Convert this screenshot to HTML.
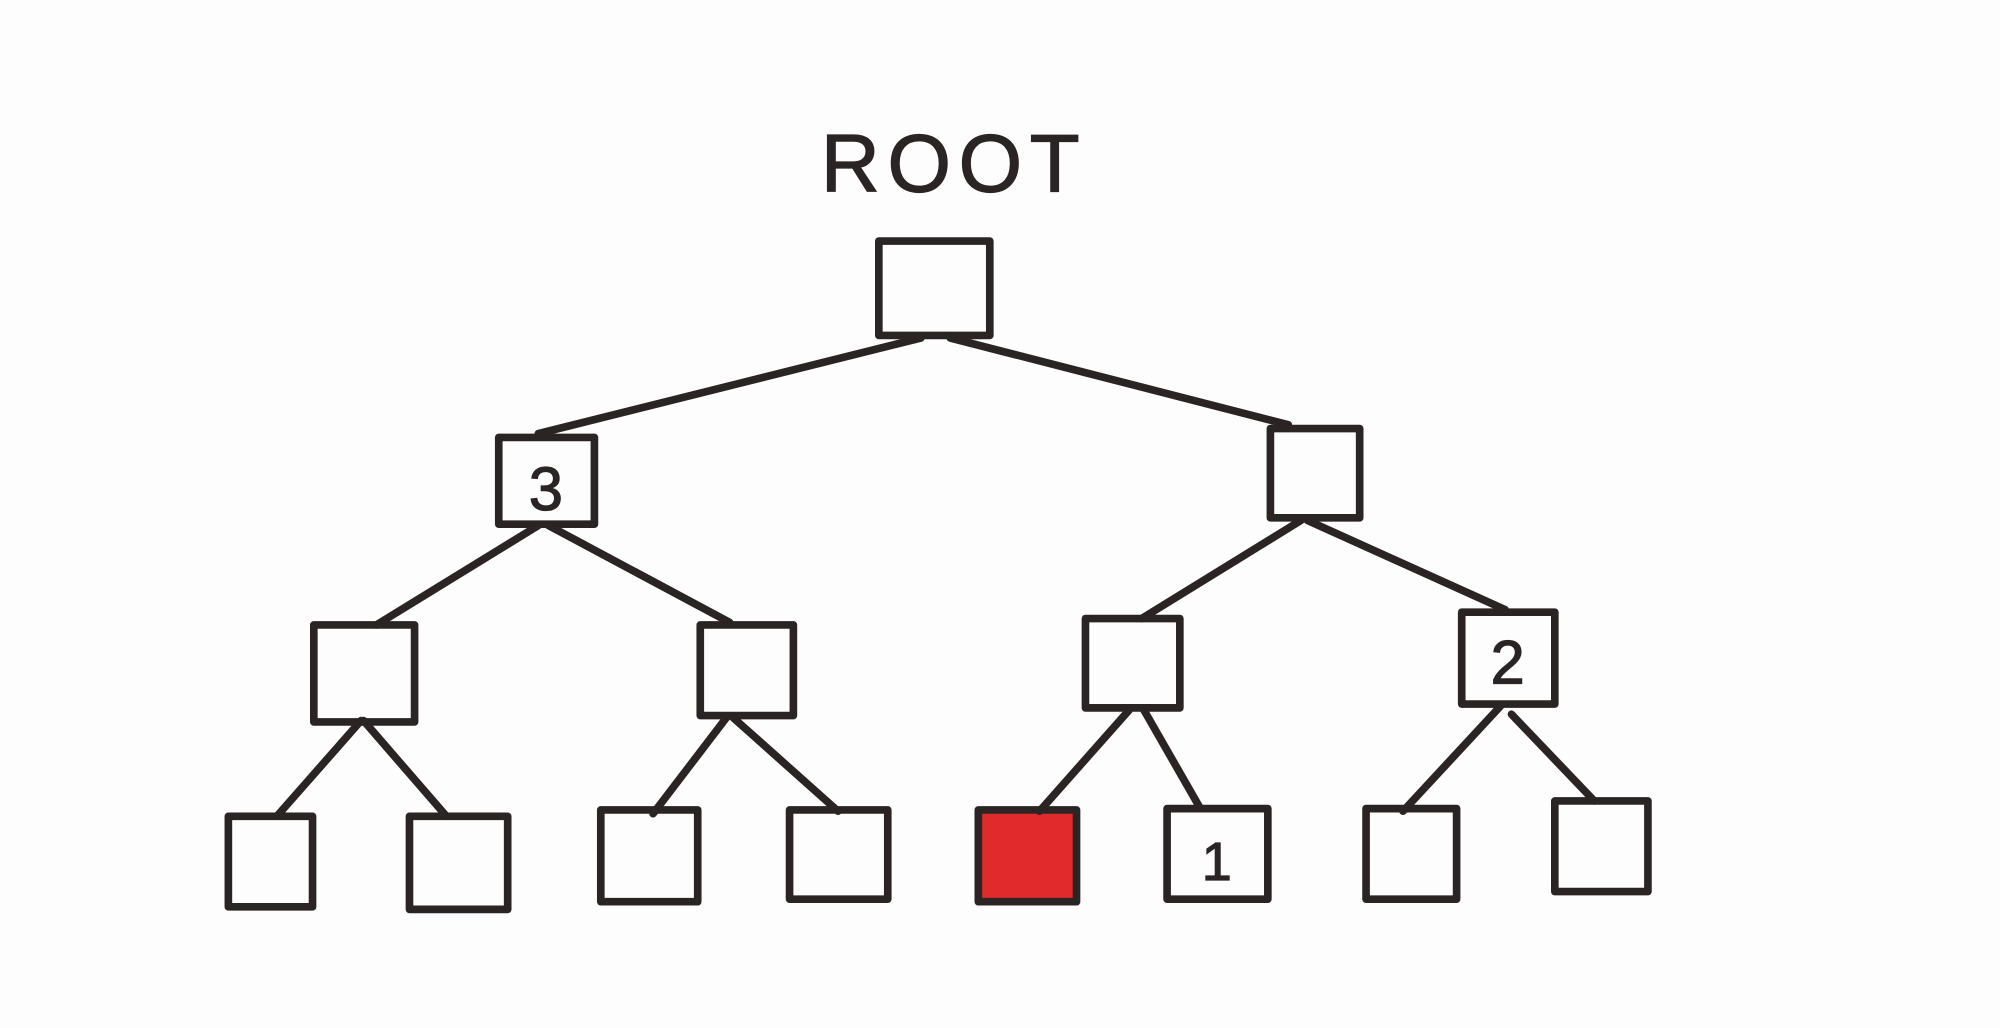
<!DOCTYPE html>
<html><head><style>html,body{margin:0;padding:0;background:#fdfdfd;}svg{display:block}</style></head>
<body>
<svg width="2000" height="1028" viewBox="0 0 1568 806" xmlns="http://www.w3.org/2000/svg">
<rect width="1568" height="806" fill="#fdfdfd"/>
<g fill="none" stroke="#2a2424" stroke-width="6" stroke-linecap="round" stroke-linejoin="round">
<rect x="689" y="189" width="87" height="74"/>
<rect x="391" y="343" width="75" height="68"/>
<rect x="996" y="336" width="70" height="70"/>
<rect x="246" y="490" width="79" height="76"/>
<rect x="549" y="490" width="73" height="71"/>
<rect x="851" y="485" width="74" height="70"/>
<rect x="1146" y="480" width="73" height="72"/>
<rect x="179" y="640" width="66" height="71"/>
<rect x="321" y="640" width="77" height="73"/>
<rect x="471" y="635" width="76" height="72"/>
<rect x="619" y="635" width="77" height="70"/>
<rect x="767" y="635" width="77" height="72" fill="#e02a2c"/>
<rect x="915" y="634" width="79" height="71"/>
<rect x="1071" y="634" width="71" height="71"/>
<rect x="1219" y="628" width="73" height="71"/>
<line x1="722" y1="265" x2="422" y2="340"/>
<line x1="745" y1="265" x2="1010" y2="333"/>
<line x1="422" y1="412" x2="295" y2="490"/>
<line x1="430" y1="412" x2="572" y2="488"/>
<line x1="1020" y1="408" x2="895" y2="485"/>
<line x1="1025" y1="408" x2="1180" y2="478"/>
<line x1="283" y1="565" x2="217" y2="640"/>
<line x1="285" y1="565" x2="350" y2="640"/>
<line x1="570" y1="562" x2="512" y2="638"/>
<line x1="574" y1="562" x2="657" y2="636"/>
<line x1="885" y1="557" x2="815" y2="636"/>
<line x1="897" y1="557" x2="940" y2="632"/>
<line x1="1177" y1="553" x2="1100" y2="636"/>
<line x1="1185" y1="560" x2="1250" y2="628"/>
</g>
<g font-family="Liberation Sans, sans-serif" fill="#2a2424" text-anchor="middle">
<text x="748" y="150" font-size="64" letter-spacing="6" stroke="#2a2424" stroke-width="1">ROOT</text>
<text x="428" y="400" font-size="48" stroke="#2a2424" stroke-width="1">3</text>
<text x="1182" y="536" font-size="48" stroke="#2a2424" stroke-width="1">2</text>
<text x="954" y="690" font-size="42" stroke="#2a2424" stroke-width="1">1</text>
</g>
</svg>
</body></html>
